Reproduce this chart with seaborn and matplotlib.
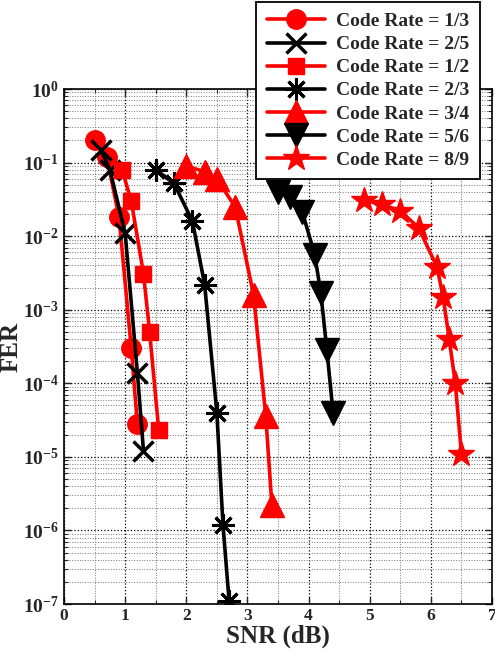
import numpy as np
import pandas as pd
import seaborn as sns
import matplotlib
matplotlib.use("Agg")
import matplotlib.pyplot as plt
from matplotlib.ticker import FixedLocator, LogLocator, NullFormatter, MultipleLocator

# ---------------- data ----------------
rate_labels = ["Code Rate = 1/3", "Code Rate = 2/5", "Code Rate = 1/2", "Code Rate = 2/3",
               "Code Rate = 3/4", "Code Rate = 5/6", "Code Rate = 8/9"]

snr_13 = [0.5, 0.7, 0.9, 1.1, 1.2]
fer_13 = [0.2, 0.12, 0.018, 3.0e-4, 2.8e-5]

snr_25 = [0.6, 0.75, 1.0, 1.2, 1.3]
fer_25 = [0.15, 0.08, 0.011, 1.4e-4, 1.2e-5]

snr_12 = [0.95, 1.1, 1.3, 1.4, 1.55]
fer_12 = [0.08, 0.03, 3.1e-3, 5.0e-4, 2.3e-5]

snr_23 = [1.5, 1.8, 2.1, 2.3, 2.5, 2.6, 2.7]
fer_23 = [0.08, 0.052, 0.016, 2.2e-3, 4.0e-5, 1.2e-6, 1.1e-7]

snr_34 = [2.0, 2.3, 2.5, 2.8, 3.1, 3.3, 3.4]
fer_34 = [0.09, 0.075, 0.06, 0.025, 1.6e-3, 3.6e-5, 2.2e-6]

snr_56 = [3.5, 3.7, 3.9, 4.1, 4.2, 4.3, 4.4]
fer_56 = [0.04, 0.034, 0.021, 5.6e-3, 1.7e-3, 2.8e-4, 4.0e-5]

snr_89 = [4.9, 5.2, 5.5, 5.8, 6.1, 6.2, 6.3, 6.4, 6.5]
fer_89 = [0.031, 0.027, 0.022, 0.013, 3.8e-3, 1.5e-3, 4.0e-4, 1.0e-4, 1.1e-5]

x_ticks = [0, 1, 2, 3, 4, 5, 6, 7]
x_tick_labels = ["0", "1", "2", "3", "4", "5", "6", "7"]
y_ticks = [1e0, 1e-1, 1e-2, 1e-3, 1e-4, 1e-5, 1e-6, 1e-7]
y_exponents = [0, -1, -2, -3, -4, -5, -6, -7]

series_snr = [snr_13, snr_25, snr_12, snr_23, snr_34, snr_56, snr_89]
series_fer = [fer_13, fer_25, fer_12, fer_23, fer_34, fer_56, fer_89]

# ---------------- style ----------------
sns.set_style("ticks")
plt.rcParams["font.family"] = ["Liberation Serif", "DejaVu Serif"]
plt.rcParams["font.weight"] = "bold"
plt.rcParams["mathtext.fontset"] = "custom"
plt.rcParams["mathtext.rm"] = "Liberation Serif:bold"
plt.rcParams["mathtext.bf"] = "Liberation Serif:bold"
plt.rcParams["mathtext.it"] = "Liberation Serif:bold"

colors = ["#ff0000", "#000000", "#ff0000", "#000000", "#ff0000", "#000000", "#ff0000"]
markers = ["o", "x", "s", (8, 2, 0), "^", "v", "*"]
msizes = [14, 14, 11, 16, 17, 17, 19]
mews = [1, 2.5, 1, 2.2, 1, 1, 1]

frames = []
for lab, xs, ys in zip(rate_labels, series_snr, series_fer):
    frames.append(pd.DataFrame({"SNR": xs, "FER": ys, "rate": lab}))
df = pd.concat(frames, ignore_index=True)

fig = plt.figure(figsize=(4.95, 6.52), dpi=100)
ax = fig.add_axes([64 / 495, 1 - 604 / 652, (492 - 64) / 495, (604 - 89) / 652])

for i, lab in enumerate(rate_labels):
    sub = df[df["rate"] == lab]
    sns.lineplot(data=sub, x="SNR", y="FER", ax=ax, color=colors[i], marker=markers[i],
                 markersize=msizes[i], markeredgewidth=mews[i],
                 markeredgecolor=colors[i], markerfacecolor=colors[i],
                 linewidth=2.6, label=lab, estimator=None, sort=False, zorder=3)

ax.set_yscale("log")
ax.set_xlim(0, 7)
ax.set_ylim(1e-7, 1e0)

ax.xaxis.set_major_locator(FixedLocator(x_ticks))
ax.set_xticklabels(x_tick_labels)
ax.xaxis.set_minor_locator(MultipleLocator(0.5))
ax.yaxis.set_major_locator(FixedLocator(y_ticks))
ax.set_yticklabels([r"$\mathbf{10^{%d}}$" % e for e in y_exponents])
ax.yaxis.set_minor_locator(LogLocator(base=10, subs=np.arange(2, 10), numticks=20))
ax.yaxis.set_minor_formatter(NullFormatter())

ax.tick_params(axis="both", which="both", direction="in", top=True, right=True)
ax.tick_params(axis="x", which="major", length=5, width=1, labelsize=12.5, pad=3)
ax.tick_params(axis="y", which="major", length=5, width=1, labelsize=14, pad=4)
ax.tick_params(axis="both", which="minor", length=3, width=0.8)
for lbl in ax.get_xticklabels() + ax.get_yticklabels():
    lbl.set_fontweight("bold")

ax.grid(True, which="major", linestyle=":", color="black", linewidth=0.9)
ax.grid(True, which="minor", linestyle=":", color="#777777", linewidth=0.7)
ax.set_axisbelow(True)
for sp in ax.spines.values():
    sp.set_linewidth(1.2)
    sp.set_color("black")

ax.set_xlabel("SNR (dB)", fontsize=18, fontweight="bold", labelpad=0)
ax.set_ylabel("FER", fontsize=18, fontweight="bold", labelpad=0)

handles, labels = ax.get_legend_handles_labels()
ax.get_legend().remove()
leg = fig.legend(handles, labels, loc="upper right",
                 bbox_to_anchor=(480 / 495, 1 - 2 / 652), bbox_transform=fig.transFigure,
                 prop={"family": "Liberation Serif", "weight": "bold", "size": 14},
                 frameon=True, fancybox=False, framealpha=1, edgecolor="black",
                 handlelength=3.0, handletextpad=0.55, labelspacing=0.28,
                 borderpad=0.55, borderaxespad=0, markerscale=1.0)
leg.get_frame().set_linewidth(1.3)
leg.set_zorder(10)

fig.savefig("out.png", dpi=100)
